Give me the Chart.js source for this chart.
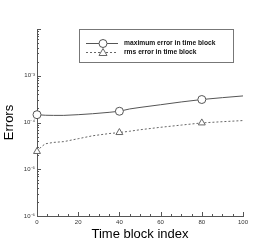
<!DOCTYPE html>
<html>
<head>
<meta charset="utf-8">
<script src="https://cdn.jsdelivr.net/npm/chart.js@4.4.0/dist/chart.umd.min.js"></script>
<style>
  html, body { margin: 0; padding: 0; background: #fff; }
  #wrap { width: 277px; height: 246px; }
</style>
</head>
<body>
<div id="wrap"><canvas id="myChart"></canvas></div>
<script>
// time block index where the errors were sampled
var blockIndex = [0, 2, 4, 8, 13, 20, 27, 35, 40, 45, 50, 60, 70, 80, 90, 100];
// errors
var maxError = [1.47e-4, 1.45e-4, 1.43e-4, 1.42e-4, 1.42e-4, 1.47e-4, 1.54e-4, 1.65e-4, 1.74e-4, 1.95e-4, 2.1e-4, 2.4e-4, 2.75e-4, 3.1e-4, 3.4e-4, 3.7e-4];
var rmsError = [2.4e-5, 3.0e-5, 3.5e-5, 3.75e-5, 3.9e-5, 4.5e-5, 5.2e-5, 5.8e-5, 6.1e-5, 6.5e-5, 7.0e-5, 7.9e-5, 8.8e-5, 9.8e-5, 1.04e-4, 1.1e-4];
var markerAt = [0, 40, 80];
var seriesNames = ['maximum error in time block', 'rms error in time block'];
var yTicks = [1e-6, 1e-5, 1e-4, 1e-3, 1e-2];
var yTickLabels = ['10\u207B\u2076', '10\u207B\u2075', '10\u207B\u2074', '10\u207B\u00B3', ''];
var xTicks = [0, 20, 40, 60, 80, 100];

function toPoints(ys) {
    var pts = [];
    for (var i = 0; i < blockIndex.length; i++) {
        pts.push({x: blockIndex[i], y: ys[i]});
    }
    return pts;
}

function markerRadius(ctx) {
    var p = ctx.raw;
    return (p && markerAt.indexOf(p.x) >= 0) ? 4 : 0;
}

// inward ticks like the original plot + boxed legend inside the plot
var axisDecor = {
    id: 'axisDecor',
    afterDraw: function(chart) {
        var c = chart.ctx, xs = chart.scales.x, ys = chart.scales.y;
        var area = chart.chartArea;
        c.save();
        c.strokeStyle = '#555';
        c.lineWidth = 1;
        c.beginPath();
        for (var v = 0; v <= 100; v += 5) {
            var px = Math.round(xs.getPixelForValue(v)) + 0.5;
            var len = (v % 20 === 0) ? 4 : 2;
            c.moveTo(px, area.bottom);
            c.lineTo(px, area.bottom - len);
        }
        for (var d = -6; d < -2; d++) {
            for (var m = 1; m <= 9; m++) {
                var val = m * Math.pow(10, d);
                var py = Math.round(ys.getPixelForValue(val)) + 0.5;
                var l = (m === 1) ? 4 : 2;
                c.moveTo(area.left, py);
                c.lineTo(area.left + l, py);
            }
        }
        var top = Math.round(ys.getPixelForValue(1e-2)) + 0.5;
        c.moveTo(area.left, top);
        c.lineTo(area.left + 4, top);
        c.stroke();

        // legend
        var bx = 79.5, by = 29.5, bw = 154, bh = 33;
        c.fillStyle = '#fff';
        c.fillRect(bx, by, bw, bh);
        c.strokeStyle = '#777';
        c.strokeRect(bx, by, bw, bh);
        var rows = [43, 52];
        chart.data.datasets.forEach(function(ds, i) {
            var y = rows[i] + 0.5;
            c.strokeStyle = ds.borderColor;
            c.setLineDash(ds.borderDash || []);
            c.beginPath();
            c.moveTo(86, y);
            c.lineTo(118, y);
            c.stroke();
            c.setLineDash([]);
            c.fillStyle = '#fff';
            c.beginPath();
            if (ds.pointStyle === 'triangle') {
                c.moveTo(103, y - 4);
                c.lineTo(107, y + 3);
                c.lineTo(99, y + 3);
                c.closePath();
            } else {
                c.arc(103, y, 4, 0, Math.PI * 2);
            }
            c.fill();
            c.stroke();
            c.fillStyle = '#111';
            c.font = 'bold 6.7px "Liberation Sans", Arial, sans-serif';
            c.textBaseline = 'middle';
            c.textAlign = 'left';
            c.fillText(seriesNames[i], 124, y);
        });
        c.restore();
    }
};

const ctx = document.getElementById('myChart').getContext('2d');
const myChart = new Chart(ctx, {
    type: 'line',
    data: {
        datasets: [
            {
                label: seriesNames[0],
                data: toPoints(maxError),
                borderColor: '#555',
                borderWidth: 1,
                backgroundColor: '#fff',
                pointStyle: 'circle',
                pointRadius: markerRadius,
                pointBorderWidth: 1,
                pointBorderColor: '#555',
                pointBackgroundColor: '#fff',
                tension: 0,
                clip: false
            },
            {
                label: seriesNames[1],
                data: toPoints(rmsError),
                borderColor: '#666',
                borderWidth: 1,
                borderDash: [2, 2],
                backgroundColor: '#fff',
                pointStyle: 'triangle',
                pointRadius: markerRadius,
                pointBorderWidth: 1,
                pointBorderColor: '#666',
                pointBackgroundColor: '#fff',
                tension: 0,
                clip: false
            }
        ]
    },
    options: {
        responsive: true,
        maintainAspectRatio: false,
        animation: false,
        layout: { padding: { top: 29, right: 34, left: 0, bottom: 0 } },
        plugins: {
            legend: { display: false },
            tooltip: { enabled: false }
        },
        scales: {
            x: {
                type: 'linear',
                min: 0,
                max: 100,
                grid: { display: false, drawTicks: false },
                border: { display: true, color: '#555', width: 1 },
                afterBuildTicks: function(s) {
                    s.ticks = xTicks.map(function(v) { return {value: v}; });
                },
                afterFit: function(s) { s.height = 30; },
                ticks: {
                    padding: 3,
                    maxRotation: 0,
                    color: '#333',
                    font: { size: 6, family: '"Liberation Sans", Arial, sans-serif' }
                },
                title: {
                    display: true,
                    text: 'Time block index',
                    color: '#000',
                    padding: { top: 0, bottom: 4 },
                    font: { size: 13, family: '"Liberation Sans", Arial, sans-serif' }
                }
            },
            y: {
                type: 'logarithmic',
                min: 1e-6,
                max: 1e-2,
                grid: { display: false, drawTicks: false },
                border: { display: true, color: '#555', width: 1 },
                afterBuildTicks: function(s) {
                    s.ticks = yTicks.map(function(v) { return {value: v}; });
                },
                afterFit: function(s) { s.width = 37; },
                ticks: {
                    padding: 2,
                    color: '#333',
                    font: { size: 6, family: '"Liberation Sans", Arial, sans-serif' },
                    callback: function(value) {
                        var i = yTicks.indexOf(value);
                        return i >= 0 ? yTickLabels[i] : '';
                    }
                },
                title: {
                    display: true,
                    text: 'Errors',
                    color: '#000',
                    padding: { top: 2, bottom: 0 },
                    font: { size: 13, family: '"Liberation Sans", Arial, sans-serif' }
                }
            }
        }
    },
    plugins: [axisDecor]
});
</script>
</body>
</html>
